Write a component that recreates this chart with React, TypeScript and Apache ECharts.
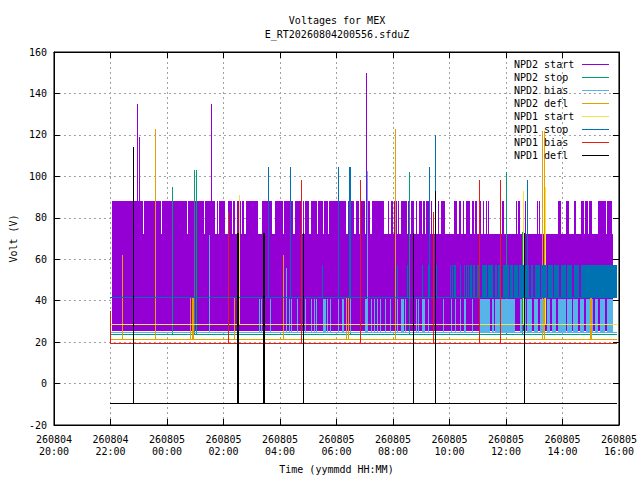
import * as echarts from "echarts";
import { useEffect, useRef } from "react";

const MONO = "'DejaVu Sans Mono', monospace";

// x is hours after 260804 20:00
const tickLabels = [
  "260804\n20:00",
  "260804\n22:00",
  "260805\n00:00",
  "260805\n02:00",
  "260805\n04:00",
  "260805\n06:00",
  "260805\n08:00",
  "260805\n10:00",
  "260805\n12:00",
  "260805\n14:00",
  "260805\n16:00",
];

const seriesNames = [
  "NPD2 start",
  "NPD2 stop",
  "NPD2 bias",
  "NPD2 defl",
  "NPD1 start",
  "NPD1 stop",
  "NPD1 bias",
  "NPD1 defl",
];
const seriesColors = [
  "#9400d3",
  "#009e73",
  "#56b4e9",
  "#e69f00",
  "#f0e442",
  "#0072b2",
  "#e51e10",
  "#000000",
];

const runStart = 2.0;
const runEnd = 19.95;

// NPD2 start: oscillates 25..72 all the time, reaches 88 in these runs
const npd2StartFloor = [[2.07, 19.79, 25, 72]];
const npd2StartHighRuns = [
  [2.07, 3.18], [3.22, 3.81], [3.85, 4.72], [4.76, 5.33], [5.38, 5.74], [5.79, 5.82],
  [5.86, 6.06], [6.18, 6.33], [6.37, 6.44], [6.49, 6.64], [6.68, 6.74], [6.83, 7.27],
  [7.37, 7.43], [7.46, 7.75], [7.85, 8.13], [8.16, 8.48], [8.55, 8.77], [8.82, 8.85],
  [8.9, 9.04], [9.11, 9.31], [9.35, 9.53], [9.56, 9.71], [9.77, 10.38], [10.41, 10.58],
  [10.62, 10.67], [10.71, 10.82], [10.87, 10.94], [10.96, 11.02], [11.07, 11.2], [11.27, 11.7],
  [11.85, 11.9], [11.95, 12.01], [12.06, 12.16], [12.21, 12.26], [12.3, 12.52], [12.55, 12.62],
  [12.67, 12.77], [12.83, 12.88], [12.95, 13.04], [13.09, 13.16], [13.2, 13.3], [13.35, 13.39],
  [13.52, 13.57], [13.61, 13.65], [13.71, 13.77], [13.8, 13.86], [14.19, 14.29], [14.36, 14.44],
  [14.5, 14.54], [14.61, 14.76], [14.82, 14.88], [14.92, 14.99], [15.09, 15.14], [15.19, 15.24],
  [15.3, 15.35], [15.4, 15.44], [15.87, 15.93], [16.36, 16.39], [16.43, 16.45], [16.49, 16.53],
  [16.71, 16.74], [17.13, 17.16], [17.2, 17.24], [17.86, 17.98], [18.13, 18.24], [18.41, 18.49],
  [18.67, 18.76], [18.8, 18.92], [18.96, 19.08], [19.26, 19.54], [19.59, 19.75],
];
const npd2StartSpikes = [[2.95, 135], [3.04, 119], [5.59, 135], [11.06, 150]];

// NPD2 stop
const npd2StopLevel = 23.8;
const npd2StopSpikes = [
  [4.19, 95], [4.99, 103], [5.03, 103], [10.49, 102], [12.57, 102], [16.01, 102], [16.58, 73],
];

// NPD2 bias
const npd2BiasLevel = 24.8;
const npd2BiasSpikes = [
  [5.51, 71.7], [7.29, 41], [7.34, 41], [7.67, 41], [8.24, 56], [8.34, 41], [8.4, 41],
  [8.63, 41], [8.9, 41], [9.12, 41], [9.21, 41], [9.29, 41], [9.53, 41], [9.57, 41],
  [9.6, 41], [9.67, 41], [9.78, 41], [10.09, 41], [10.2, 41], [10.23, 41], [10.26, 41],
  [10.5, 41], [11.02, 41], [11.06, 41], [11.11, 102.6], [11.23, 41], [11.35, 41], [11.46, 41],
  [11.55, 41], [11.74, 41], [11.91, 41], [12.16, 41], [12.3, 41], [12.34, 41], [12.37, 41],
  [12.44, 41], [12.85, 41], [12.91, 41], [13.03, 41], [13.08, 41], [13.12, 41], [13.26, 41],
  [13.45, 41], [13.78, 41], [14.08, 41], [14.2, 41], [14.39, 41], [14.53, 41], [14.58, 41],
  [14.82, 41],
];
const npd2BiasTop = 41;
const npd2BiasRuns = [
  [15.06, 15.46], [15.51, 15.58], [15.63, 16.33], [16.53, 16.6], [16.65, 16.72], [16.77, 16.95],
  [17.0, 17.13], [17.23, 17.42], [17.47, 17.58], [17.65, 17.79], [17.85, 18.12], [18.17, 18.35],
  [18.4, 18.59], [18.63, 18.78], [18.84, 19.1], [19.17, 19.29], [19.33, 19.52], [19.58, 19.78],
];

// NPD2 defl
const npd2DeflLevel = 21.4;
const npd2DeflSpikes = [
  [2.44, 62], [3.59, 123], [4.84, 41.5], [4.89, 41.5], [4.94, 41.5], [6.4, 41.5], [8.12, 62],
  [10.37, 41.2], [10.42, 41.2], [12.08, 123], [17.31, 122], [17.35, 122], [18.99, 41.2], [19.03, 41.2],
];

// NPD1 start
const npd1StartLevel = 28.6;
const npd1StartSpikes = [[6.58, 91], [16.61, 93], [17.41, 95]];

// NPD1 stop
const npd1StopLevel = 41.6;
const npd1StopSpikes = [
  [7.59, 104.5], [8.36, 104.5], [10.08, 104.5], [10.45, 104.5], [10.49, 104.5], [13.31, 104.5],
  [13.5, 120], [16.77, 98], [9.52, 57], [12.15, 57], [12.5, 57], [13.03, 57], [13.26, 57],
  [13.55, 57], [14.02, 57], [14.11, 57], [14.18, 57], [14.22, 57], [14.38, 57], [14.53, 57],
  [14.61, 57], [14.67, 57], [14.73, 57], [14.78, 57], [14.84, 57], [14.9, 57],
];
const npd1StopTop = 57;
const npd1StopRuns = [
  [14.99, 15.11], [15.16, 15.34], [15.39, 15.58], [15.62, 15.69], [15.74, 15.83], [15.9, 16.1],
  [16.16, 16.25], [16.3, 16.43], [16.49, 16.86], [16.92, 17.0], [17.05, 17.21], [17.26, 17.47],
  [17.51, 17.68], [17.72, 17.91], [17.96, 18.14], [18.19, 18.38], [18.42, 18.61], [18.66, 19.92],
];

// NPD1 bias
const npd1BiasLevel = 19.5;
const npd1BiasSpikes = [
  [2.01, 35], [6.19, 83], [8.75, 98], [10.85, 98], [13.44, 83], [15.07, 98], [15.8, 98],
];

// NPD1 defl
const npd1DeflLevel = -9.5;
const npd1DeflSpikes = [
  [2.82, 114], [6.51, 72.6], [6.54, 72.6], [7.4, 72.6], [7.47, 72.6], [8.82, 72.6],
  [12.71, 72.6], [13.51, 93], [16.64, 72.6],
];

type Seg = number[];
const levelSeg = (v: number): Seg => [runStart, runEnd, v, v];
const spikeSegs = (base: number, spikes: number[][]): Seg[] =>
  spikes.map(([t, top]) => [t, t, base, top]);
const runSegs = (lo: number, hi: number, runs: number[][]): Seg[] =>
  runs.map(([a, b]) => [a, b, lo, hi]);

const seriesData: Seg[][] = [
  [...npd2StartFloor, ...runSegs(72, 88, npd2StartHighRuns), ...spikeSegs(88, npd2StartSpikes)],
  [levelSeg(npd2StopLevel), ...spikeSegs(npd2StopLevel, npd2StopSpikes)],
  [
    levelSeg(npd2BiasLevel),
    ...spikeSegs(npd2BiasLevel, npd2BiasSpikes),
    ...runSegs(npd2BiasLevel, npd2BiasTop, npd2BiasRuns),
  ],
  [levelSeg(npd2DeflLevel), ...spikeSegs(npd2DeflLevel, npd2DeflSpikes)],
  [levelSeg(npd1StartLevel), ...spikeSegs(npd1StartLevel, npd1StartSpikes)],
  [
    levelSeg(npd1StopLevel),
    ...spikeSegs(npd1StopLevel, npd1StopSpikes),
    ...runSegs(npd1StopLevel, npd1StopTop, npd1StopRuns),
  ],
  [levelSeg(npd1BiasLevel), ...spikeSegs(npd1BiasLevel, npd1BiasSpikes)],
  [levelSeg(npd1DeflLevel), ...spikeSegs(npd1DeflLevel, npd1DeflSpikes)],
];

const renderSeg = (color: string) => (_params: any, api: any) => {
  const a = api.coord([api.value(0), api.value(3)]);
  const b = api.coord([api.value(1), api.value(2)]);
  return {
    type: "rect",
    shape: {
      x: Math.floor(a[0]),
      y: Math.round(a[1]),
      width: Math.max(1, Math.round(b[0] - a[0])),
      height: Math.max(1, Math.round(b[1] - a[1])),
    },
    style: { fill: color },
  };
};

const axisText = { fontFamily: MONO, fontSize: 10, color: "#000" };
const gridLine = { show: true, lineStyle: { color: "#a0a0a0", width: 1, type: [2, 3] } };
const blackLine = { lineStyle: { color: "#000", width: 1 } };

export default function App() {
  const ref = useRef<HTMLDivElement>(null);

  useEffect(() => {
    document.body.style.margin = "0";
    if (!ref.current) return;
    const chart = echarts.init(ref.current, undefined, { renderer: "svg" });
    chart.setOption({
      animation: false,
      backgroundColor: "#fff",
      title: {
        text: "Voltages for MEX\nE_RT20260804200556.sfduZ",
        left: 337,
        top: 13,
        textAlign: "center",
        padding: 0,
        textStyle: { ...axisText, fontWeight: "normal", lineHeight: 14 },
      },
      legend: {
        orient: "vertical",
        left: 514,
        top: 58,
        align: "right",
        icon: "rect",
        itemWidth: 27,
        itemHeight: 1,
        itemGap: 0,
        padding: 0,
        selectedMode: false,
        data: seriesNames,
        formatter: (name: string) => `{t|${name}}`,
        textStyle: {
          ...axisText,
          lineHeight: 13,
          rich: { t: { ...axisText, width: 63, align: "left", lineHeight: 13 } },
        },
      },
      grid: {
        left: 52,
        right: 18,
        top: 52,
        bottom: 55,
        show: true,
        borderColor: "#000",
        borderWidth: 1,
      },
      xAxis: [
        {
          type: "value",
          min: 0,
          max: 20,
          interval: 2,
          name: "Time (yymmdd HH:MM)",
          nameLocation: "middle",
          nameGap: 39,
          nameTextStyle: axisText,
          axisLine: { onZero: false, ...blackLine },
          axisTick: { inside: true, length: 6, ...blackLine },
          axisLabel: {
            ...axisText,
            lineHeight: 12,
            margin: 8,
            formatter: (v: number) => tickLabels[Math.round(v / 2)],
          },
          splitLine: gridLine,
        },
        {
          type: "value",
          position: "top",
          min: 0,
          max: 20,
          interval: 2,
          axisLine: { onZero: false, ...blackLine },
          axisTick: { inside: true, length: 6, ...blackLine },
          axisLabel: { show: false },
          splitLine: { show: false },
        },
      ],
      yAxis: [
        {
          type: "value",
          min: -20,
          max: 160,
          interval: 20,
          name: "Volt (V)",
          nameLocation: "middle",
          nameGap: 34,
          nameTextStyle: axisText,
          axisLine: { show: true, onZero: false, ...blackLine },
          axisTick: { show: true, inside: true, length: 6, ...blackLine },
          axisLabel: { ...axisText, margin: 7 },
          splitLine: gridLine,
        },
        {
          type: "value",
          position: "right",
          min: -20,
          max: 160,
          interval: 20,
          axisLine: { show: true, onZero: false, ...blackLine },
          axisTick: { show: true, inside: true, length: 6, ...blackLine },
          axisLabel: { show: false },
          splitLine: { show: false },
        },
      ],
      series: seriesNames.map((name, i) => ({
        name,
        type: "custom",
        xAxisIndex: 0,
        yAxisIndex: 0,
        clip: true,
        silent: true,
        itemStyle: { color: seriesColors[i] },
        encode: { x: [0, 1], y: [2, 3] },
        renderItem: renderSeg(seriesColors[i]),
        data: seriesData[i],
      })),
    });
    return () => chart.dispose();
  }, []);

  return <div ref={ref} style={{ width: 640, height: 480 }} />;
}
